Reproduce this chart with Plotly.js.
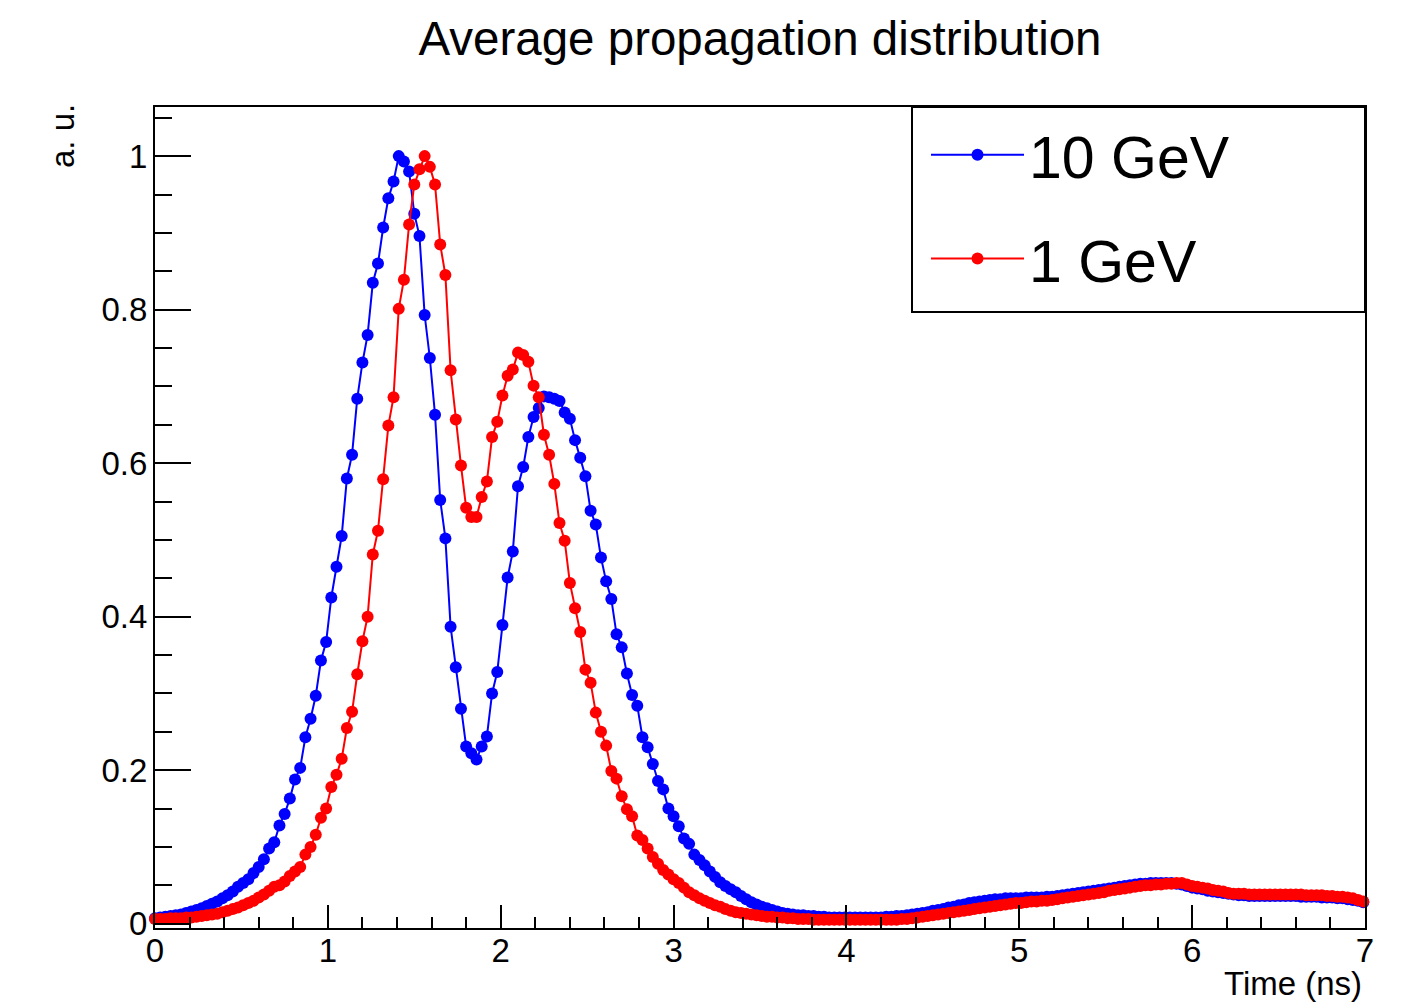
<!DOCTYPE html>
<html>
<head>
<meta charset="utf-8">
<script src="https://cdn.plot.ly/plotly-3.0.1.min.js"></script>
<style>html,body{margin:0;padding:0;background:#fff;}#chart{width:1404px;height:1003px;}</style>
</head>
<body>
<div id="chart"></div>
<script>
// Time axis: first bin and bin width (ns)
const timeStart = 0.0;
const timeStep = 0.03;

// 10 GeV average propagation distribution (a. u.)
const y10GeV = [
0.007,0.008,0.009,0.010,0.011,0.012,0.014,0.016,0.018,0.020,
0.023,0.026,0.029,0.033,0.037,0.042,0.048,0.053,0.058,0.066,
0.074,0.084,0.098,0.106,0.128,0.143,0.163,0.188,0.203,0.243,
0.267,0.297,0.343,0.367,0.425,0.465,0.505,0.580,0.611,0.684,
0.731,0.767,0.835,0.860,0.907,0.945,0.967,1.000,0.993,0.980,
0.925,0.896,0.793,0.737,0.663,0.552,0.502,0.387,0.334,0.280,
0.231,0.222,0.214,0.231,0.244,0.300,0.328,0.389,0.451,0.485,
0.570,0.595,0.634,0.660,0.672,0.687,0.686,0.684,0.681,0.666,
0.658,0.630,0.607,0.583,0.538,0.520,0.477,0.446,0.423,0.377,
0.360,0.326,0.298,0.284,0.243,0.230,0.208,0.186,0.175,0.150,
0.140,0.127,0.111,0.104,0.090,0.083,0.076,0.068,0.061,0.054,
0.049,0.045,0.041,0.036,0.032,0.028,0.025,0.022,0.020,0.018,
0.016,0.014,0.013,0.012,0.011,0.011,0.010,0.010,0.009,0.009,
0.008,0.008,0.008,0.008,0.008,0.008,0.008,0.008,0.008,0.008,
0.008,0.009,0.009,0.010,0.010,0.011,0.012,0.013,0.014,0.015,
0.017,0.018,0.019,0.021,0.022,0.024,0.025,0.027,0.028,0.029,
0.030,0.031,0.032,0.032,0.033,0.033,0.033,0.033,0.034,0.034,
0.034,0.034,0.035,0.035,0.036,0.037,0.038,0.039,0.040,0.041,
0.042,0.043,0.044,0.045,0.046,0.047,0.048,0.049,0.050,0.051,
0.052,0.052,0.053,0.053,0.053,0.053,0.053,0.052,0.051,0.049,
0.047,0.046,0.045,0.043,0.042,0.041,0.040,0.039,0.038,0.037,
0.037,0.036,0.036,0.036,0.036,0.036,0.036,0.036,0.036,0.036,
0.036,0.035,0.035,0.035,0.035,0.034,0.034,0.034,0.033,0.033,
0.032,0.031,0.030,0.028
];

// 1 GeV average propagation distribution (a. u.)
const y1GeV = [
0.006,0.006,0.006,0.007,0.007,0.007,0.008,0.008,0.009,0.010,
0.011,0.012,0.013,0.015,0.017,0.019,0.021,0.024,0.027,0.030,
0.034,0.038,0.043,0.048,0.050,0.055,0.062,0.068,0.074,0.090,
0.100,0.116,0.138,0.150,0.178,0.194,0.215,0.255,0.276,0.325,
0.368,0.400,0.481,0.512,0.579,0.649,0.686,0.801,0.839,0.911,
0.963,0.983,1.000,0.986,0.963,0.885,0.845,0.721,0.657,0.597,
0.542,0.530,0.530,0.556,0.576,0.634,0.654,0.688,0.714,0.722,
0.744,0.741,0.732,0.701,0.686,0.637,0.611,0.573,0.522,0.499,
0.444,0.411,0.380,0.331,0.314,0.275,0.250,0.232,0.199,0.189,
0.166,0.149,0.140,0.115,0.109,0.098,0.087,0.078,0.070,0.064,
0.058,0.053,0.047,0.041,0.037,0.033,0.030,0.027,0.024,0.022,
0.019,0.017,0.015,0.014,0.013,0.012,0.011,0.010,0.009,0.009,
0.008,0.008,0.007,0.007,0.006,0.006,0.006,0.005,0.005,0.005,
0.005,0.005,0.005,0.005,0.005,0.005,0.005,0.005,0.005,0.005,
0.005,0.005,0.005,0.005,0.006,0.006,0.007,0.008,0.009,0.010,
0.011,0.012,0.013,0.014,0.015,0.016,0.017,0.018,0.019,0.020,
0.021,0.022,0.023,0.024,0.025,0.026,0.027,0.027,0.028,0.029,
0.029,0.030,0.030,0.031,0.032,0.033,0.034,0.035,0.036,0.037,
0.038,0.039,0.040,0.041,0.043,0.044,0.045,0.046,0.047,0.048,
0.049,0.050,0.050,0.051,0.051,0.052,0.052,0.053,0.053,0.051,
0.049,0.048,0.047,0.046,0.044,0.043,0.042,0.040,0.039,0.039,
0.039,0.038,0.038,0.038,0.038,0.038,0.038,0.038,0.038,0.038,
0.038,0.038,0.037,0.037,0.037,0.037,0.036,0.036,0.035,0.035,
0.034,0.033,0.031,0.029
];

const seriesNames = ['10 GeV', '1 GeV'];
const titleText = 'Average propagation distribution';
const xTitle = 'Time (ns)';
const yTitle = 'a. u.';

const FONT = 'Liberation Sans, Arial, Helvetica, sans-serif';

function makeTrace(name, ys, color, group) {
  return {
    type: 'scatter', mode: 'lines+markers', name: name,
    x0: timeStart, dx: timeStep, y: ys,
    line: {color: color, width: 2},
    marker: {color: color, size: 12, symbol: 'circle', line: {width: 0}},
    cliponaxis: false,
    legendgroup: group
  };
}

const data = [
  makeTrace(seriesNames[0], y10GeV, '#0000ff', 'g1'),
  makeTrace(seriesNames[1], y1GeV, '#ff0000', 'g2')
];

const L = 155, R = 1365, T = 107, B = 928, W = 1404, H = 1003;
const pw = R - L, ph = B - T;
const px = v => (v - L) / pw;
const py = v => (B - v) / ph;

const layout = {
  width: W, height: H,
  margin: {l: L, r: W - R, t: T, b: H - B, pad: 0},
  paper_bgcolor: '#ffffff', plot_bgcolor: '#ffffff',
  font: {family: FONT, color: '#000000'},
  title: {text: titleText, font: {family: FONT, size: 47.5, color: '#000'},
          x: 0.5, xref: 'paper', xanchor: 'center', y: 1 - 38 / H, yref: 'container', yanchor: 'middle'},
  showlegend: true,
  legend: {x: px(926), xanchor: 'left', y: py(110), yanchor: 'top',
           bgcolor: 'rgba(0,0,0,0)', borderwidth: 0,
           font: {family: FONT, size: 59, color: '#000'},
           itemwidth: 93, traceorder: 'grouped', tracegroupgap: 24},
  xaxis: {range: [0, 7], showgrid: false, zeroline: false,
          showline: true, mirror: true, linecolor: '#000', linewidth: 2,
          ticks: 'inside', ticklen: 23, tickwidth: 2, tickcolor: '#000',
          tick0: 0, dtick: 1, tickfont: {family: FONT, size: 33, color: '#000'},
          ticklabelstandoff: -8,
          minor: {ticks: 'inside', ticklen: 11, tickwidth: 2, tickcolor: '#000', dtick: 0.2, tick0: 0, showgrid: false}},
  yaxis: {range: [-0.0056, 1.064], showgrid: false, zeroline: false,
          showline: true, mirror: true, linecolor: '#000', linewidth: 2,
          ticks: 'inside', ticklen: 36, tickwidth: 2, tickcolor: '#000',
          tick0: 0, dtick: 0.2, tickfont: {family: FONT, size: 33, color: '#000'},
          ticklabelstandoff: -1,
          minor: {ticks: 'inside', ticklen: 17, tickwidth: 2, tickcolor: '#000', dtick: 0.05, tick0: 0, showgrid: false}},
  shapes: [
    {type: 'rect', xref: 'paper', yref: 'paper', x0: px(912), x1: 1, y0: py(312), y1: 1,
     line: {color: '#000', width: 2}, fillcolor: 'rgba(0,0,0,0)'}
  ],
  annotations: [
    {text: yTitle, xref: 'paper', yref: 'paper', x: px(62), y: py(136), xanchor: 'center', yanchor: 'middle',
     textangle: -90, showarrow: false, font: {family: FONT, size: 33, color: '#000'}},
    {text: xTitle, xref: 'paper', yref: 'paper', x: px(1364), y: py(984), xanchor: 'right', yanchor: 'middle',
     showarrow: false, font: {family: FONT, size: 33, color: '#000'}}
  ]
};

Plotly.newPlot('chart', data, layout, {displayModeBar: false, staticPlot: true});
</script>
</body>
</html>
